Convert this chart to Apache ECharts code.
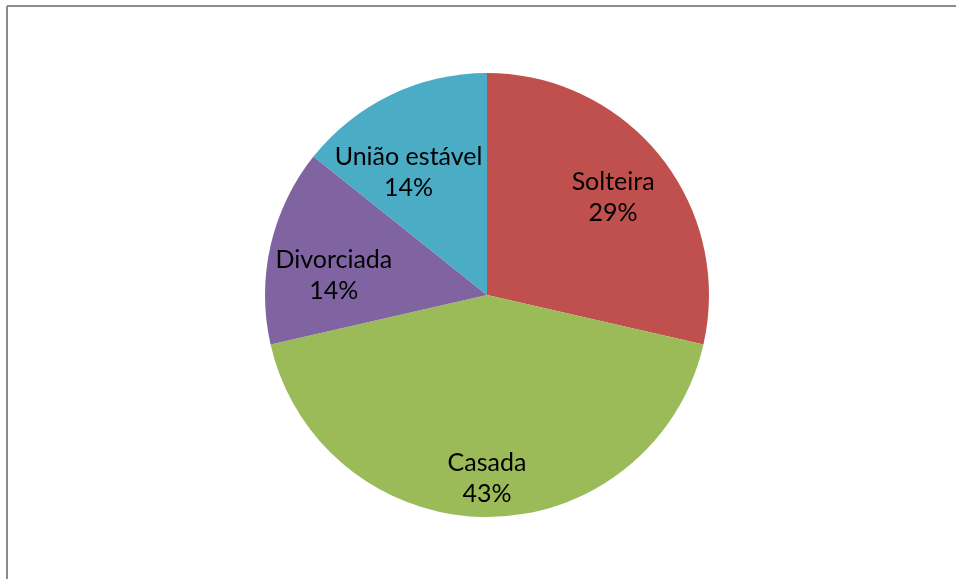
<!DOCTYPE html>
<html><head><meta charset="utf-8">
<script src="https://cdn.jsdelivr.net/npm/echarts@6/dist/echarts.min.js"></script>
<style>html,body{margin:0;padding:0;background:#fff}#c{width:956px;height:579px}</style>
</head><body><div id="c"></div>
<script>
const categories = ['Solteira', 'Casada', 'Divorciada', 'União estável'];
const values = [2, 3, 1, 1];
const colors = ['#C0504D', '#9BBB59', '#8064A2', '#4BACC6'];
const labelOffsets = [[37, -26], [0, 69], [-42, 6], [-29, -20]];

const chart = echarts.init(document.getElementById('c'), null, {renderer: 'canvas'});
chart.setOption({
  animation: false,
  backgroundColor: '#fff',
  graphic: [
    {type: 'line', shape: {x1: 7, y1: 6, x2: 7, y2: 579}, style: {stroke: '#8c8c8c', lineWidth: 2}},
    {type: 'line', shape: {x1: 7, y1: 6, x2: 956, y2: 6}, style: {stroke: '#8c8c8c', lineWidth: 2}}
  ],
  series: [{
    type: 'pie',
    center: [487, 295],
    radius: [0, 222],
    startAngle: 90,
    clockwise: true,
    percentPrecision: 0,
    silent: true,
    itemStyle: {borderWidth: 0},
    label: {
      position: 'inside',
      formatter: '{b}\n{d}%',
      fontFamily: 'Lato',
      fontSize: 25,
      lineHeight: 31,
      color: '#000'
    },
    labelLine: {show: false},
    data: categories.map((n, i) => ({
      name: n, value: values[i],
      itemStyle: {color: colors[i]},
      label: {offset: labelOffsets[i]}
    }))
  }]
});
</script></body></html>
